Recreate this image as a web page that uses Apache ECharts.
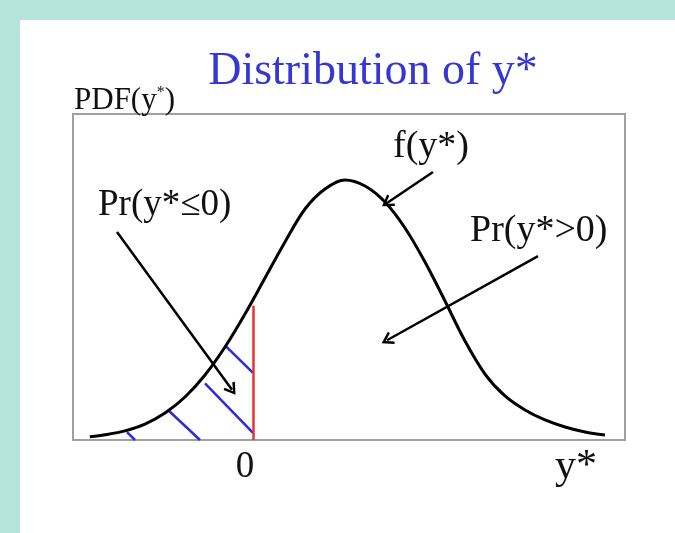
<!DOCTYPE html>
<html>
<head>
<meta charset="utf-8">
<script src="https://cdn.jsdelivr.net/npm/echarts@6/dist/echarts.min.js"></script>
<style>
    html, body { margin: 0; padding: 0; background: #b4e4da; }
    #chart { position: absolute; left: 20px; top: 20px; width: 655px; height: 513px; background: #ffffff; }
</style>
</head>
<body>
<div id="chart"></div>
<script>
// Density curve (x in units where the cut point is 0)
const curveX = [-2.04, -1.85, -1.6, -1.35, -1.1, -0.85, -0.6, -0.35, -0.1, 0.15, 0.4, 0.65, 0.9, 1.15,
    1.4, 1.65, 1.9, 2.15, 2.4, 2.65, 2.9, 3.15, 3.4, 3.65, 3.9, 4.15, 4.4];
const curveY = [0.005, 0.008, 0.014, 0.0245, 0.0414, 0.066, 0.0997, 0.1426, 0.1933, 0.2485, 0.3037, 0.3543, 0.385, 0.3988,
    0.3896, 0.365, 0.3252, 0.273, 0.2132, 0.1518, 0.1012, 0.0675, 0.046, 0.0307, 0.0199, 0.0123, 0.0077];

// Hatching under the left tail: start and end point of each stroke
const hatchFrom = [[-1.575, 0.012], [-1.0625, 0.046], [-0.6, 0.087], [-0.35, 0.145]];
const hatchTo = [[-1.475, 0], [-0.6625, 0], [0, 0.011], [0, 0.103]];

// Cut point line at y* = 0
const cutX = 0;
const cutTop = 0.206;

// Arrows: tail and head
const arrowFrom = [[-1.7, 0.319], [2.25, 0.411], [3.5625, 0.282]];
const arrowTo = [[-0.2625, 0.077], [1.675, 0.3635], [1.675, 0.153]];

// Axis ticks
const xTickValues = [0];
const xTickLabels = ['0'];

const serif = '"Liberation Serif", "Times New Roman", serif';

const chartDom = document.getElementById('chart');
const chart = echarts.init(chartDom, null, { renderer: 'canvas' });

const curveData = curveX.map((x, i) => [x, curveY[i]]);
const hatchLines = hatchFrom.map((p, i) => [{ coord: p }, { coord: hatchTo[i] }]);
const arrowLines = arrowFrom.map((p, i) => [{ coord: p }, { coord: arrowTo[i] }]);

// open "V" arrow head
const chevron = 'path://M5,0 L10,9 L8.4,10 L5,3.6 L1.6,10 L0,9 Z';

const option = {
    animation: false,
    title: {
        text: 'Distribution of y*',
        left: 348,
        top: 24,
        textAlign: 'center',
        textStyle: {
            color: '#3636d2',
            fontFamily: serif,
            fontWeight: 'normal',
            fontSize: 46
        }
    },
    grid: {
        left: 53,
        right: 50,
        top: 94,
        bottom: 93,
        show: true,
        borderColor: '#a0a0a0',
        borderWidth: 2,
        backgroundColor: '#ffffff'
    },
    xAxis: {
        type: 'value',
        min: -2.25,
        max: 4.65,
        axisLine: { show: false },
        axisTick: { show: false },
        splitLine: { show: false },
        axisLabel: {
            customValues: xTickValues,
            formatter: v => xTickLabels[xTickValues.indexOf(v)] || '',
            margin: 9,
            padding: [0, 16, 0, 0],
            color: '#111',
            fontFamily: serif,
            fontSize: 37
        }
    },
    yAxis: {
        type: 'value',
        min: 0,
        max: 0.5,
        axisLine: { show: false },
        axisTick: { show: false },
        splitLine: { show: false },
        axisLabel: { show: false }
    },
    graphic: [
        {
            type: 'text', left: 54, top: 65,
            style: {
                text: 'PDF(y{s|*})',
                font: '31px ' + serif,
                fill: '#111',
                rich: { s: { fontSize: 16, fontFamily: serif, verticalAlign: 'top', fill: '#111' } }
            }
        },
        { type: 'text', left: 78, top: 167, style: { text: 'Pr(y*≤0)', font: '37px ' + serif, fill: '#111' } },
        { type: 'text', left: 373, top: 108, style: { text: 'f(y*)', font: '38px ' + serif, fill: '#111' } },
        { type: 'text', left: 450, top: 192, style: { text: 'Pr(y*>0)', font: '38px ' + serif, fill: '#111' } },
        { type: 'text', left: 535, top: 426, style: { text: 'y*', font: '42px ' + serif, fill: '#111' } }
    ],
    series: [
        {
            name: 'f(y*)',
            type: 'line',
            smooth: 0.33,
            showSymbol: false,
            silent: true,
            data: curveData,
            lineStyle: { color: '#000', width: 3 },
            z: 5
        },
        {
            name: 'hatch',
            type: 'line',
            data: [],
            markLine: {
                silent: true,
                symbol: ['none', 'none'],
                label: { show: false },
                lineStyle: { color: '#2b2bdc', width: 2.5, type: 'solid' },
                data: hatchLines
            },
            z: 3
        },
        {
            name: 'cut',
            type: 'line',
            data: [],
            markLine: {
                silent: true,
                symbol: ['none', 'none'],
                label: { show: false },
                lineStyle: { color: '#e23535', width: 2.5, type: 'solid' },
                data: [[{ coord: [cutX, 0] }, { coord: [cutX, cutTop] }]]
            },
            z: 4
        },
        {
            name: 'arrows',
            type: 'line',
            data: [],
            markLine: {
                silent: true,
                symbol: ['none', chevron],
                symbolSize: [14, 12],
                label: { show: false },
                lineStyle: { color: '#000', width: 2.5, type: 'solid' },
                itemStyle: { color: '#000' },
                data: arrowLines
            },
            z: 6
        }
    ]
};

chart.setOption(option);
</script>
</body>
</html>
